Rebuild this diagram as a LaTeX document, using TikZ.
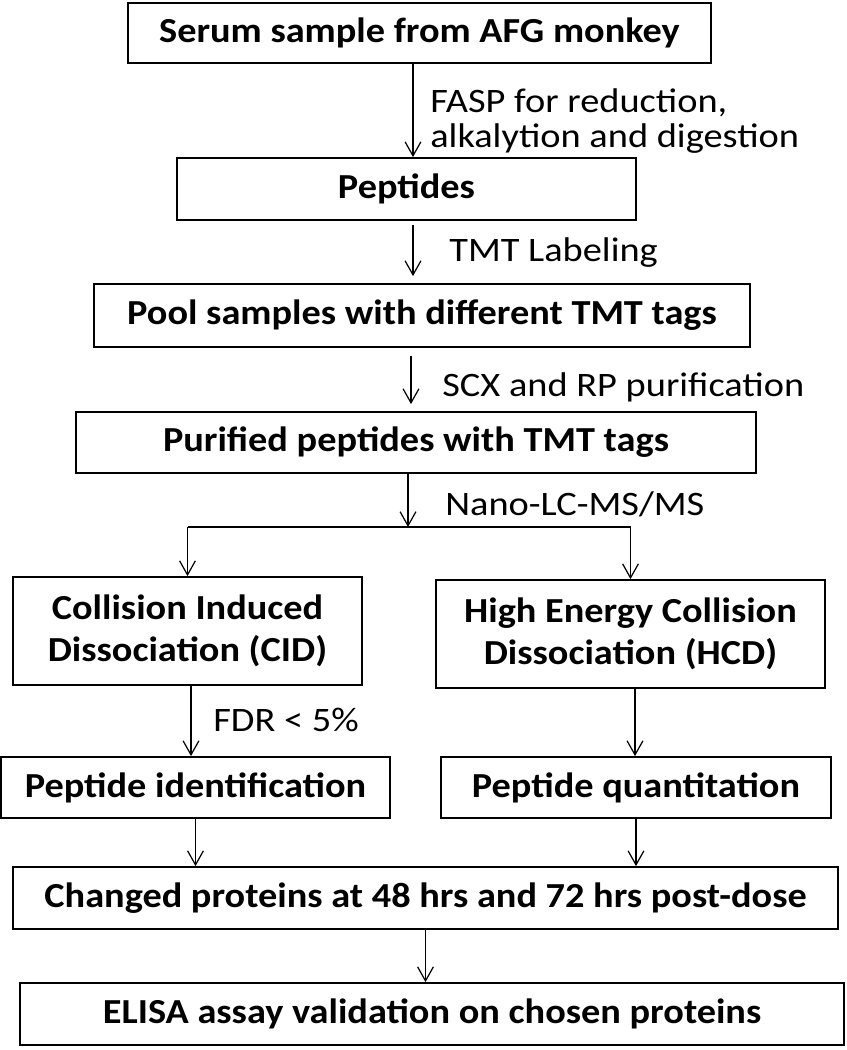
\documentclass[tikz,border=0pt]{standalone}
\usepackage{fontspec}
\setmainfont{Carlito}
\newfontfamily\boxfont{Carlito}[FakeStretch=1.09]
\newfontfamily\notefont{Carlito}[FakeStretch=1.12]
\usetikzlibrary{arrows.meta}

\begin{document}
\begin{tikzpicture}[
    every node/.style={align=center},
    box/.style={rectangle, draw=black, line width=1pt, inner sep=2pt, font=\boxfont\fontsize{20}{24}\selectfont\bfseries},
    note/.style={anchor=west, inner sep=0pt, align=left, font=\notefont\fontsize{19.5}{19.8}\selectfont},
    arrow/.style={-{Straight Barb[length=8pt, width=9pt]}, line width=0.7pt},
    link/.style={line width=0.7pt}
]
\useasboundingbox[fill=white] (0,0) rectangle (16.94,-21);

% --- Upper chain (sample preparation)
\node[box, minimum width=11.66cm, minimum height=1.20cm] (serum) at (8.39,-0.66) {Serum sample from AFG monkey};
\node[box, minimum width=9.18cm, minimum height=1.24cm] (peptides) at (8.13,-3.78) {Peptides};
\node[box, minimum width=13.12cm, minimum height=1.26cm] (pool) at (8.44,-6.31) {Pool samples with different TMT tags};
\node[box, minimum width=13.60cm, minimum height=1.22cm] (purified) at (8.32,-8.85) {Purified peptides with TMT tags};

% --- Two branches (CID / HCD)
\node[box, minimum width=6.98cm, minimum height=2.16cm] (cid) at (3.75,-12.62) {Collision Induced\\Dissociation (CID)};
\node[box, minimum width=7.78cm, minimum height=2.16cm] (hcd) at (12.61,-12.68) {High Energy Collision\\Dissociation (HCD)};
\node[box, minimum width=7.78cm, minimum height=1.22cm] (ident) at (3.91,-15.75) {Peptide identification};
\node[box, minimum width=7.80cm, minimum height=1.22cm] (quant) at (12.72,-15.75) {Peptide quantitation};

% --- Lower chain (results)
\node[box, minimum width=16.50cm, minimum height=1.24cm] (changed) at (8.51,-17.96) {Changed proteins at 48 hrs and 72 hrs post-dose};
\node[box, minimum width=16.48cm, minimum height=1.24cm] (elisa) at (8.64,-20.28) {ELISA assay validation on chosen proteins};

% --- Step labels
\node[note] (fasp) at (8.60,-2.42) {FASP for reduction,\\alkalytion and digestion};
\node[note] (tmt) at (8.98,-5.06) {TMT Labeling};
\node[note] (scx) at (8.84,-7.74) {SCX and RP purification};
\node[note] (nano) at (8.90,-10.08) {Nano-LC-MS/MS};
\node[note] (fdr) at (4.26,-14.40) {FDR < 5\%};

% --- Arrows
\draw[arrow] ([xshift=-0.13cm]serum.south) -- ([xshift=-0.13cm]serum.south |- peptides.north);
\draw[arrow, shorten <=0.08cm, shorten >=0.14cm] ([xshift=0.13cm]peptides.south) -- ([xshift=0.13cm]peptides.south |- pool.north);
\draw[arrow, shorten <=0.16cm, shorten >=0.14cm] ([xshift=-0.22cm]pool.south) -- ([xshift=-0.22cm]pool.south |- purified.north);

% --- Split to CID and HCD
\coordinate (split) at (8.16,-10.54);
\draw[arrow] (purified.south -| split) -- (split);
\draw[link] (cid.north |- split) -- (hcd.north |- split);
\draw[arrow] (cid.north |- split) -- (cid.north);
\draw[arrow] (hcd.north |- split) -- (hcd.north);

\draw[arrow] ([xshift=0.07cm]cid.south) -- ([xshift=0.07cm]cid.south |- ident.north);
\draw[arrow] ([xshift=0.09cm]hcd.south) -- ([xshift=0.09cm]hcd.south |- quant.north);
\draw[arrow] (ident.south) -- (ident.south |- changed.north);
\draw[arrow] (quant.south) -- (quant.south |- changed.north);
\draw[arrow] (changed.south) -- (changed.south |- elisa.north);

\end{tikzpicture}
\end{document}
